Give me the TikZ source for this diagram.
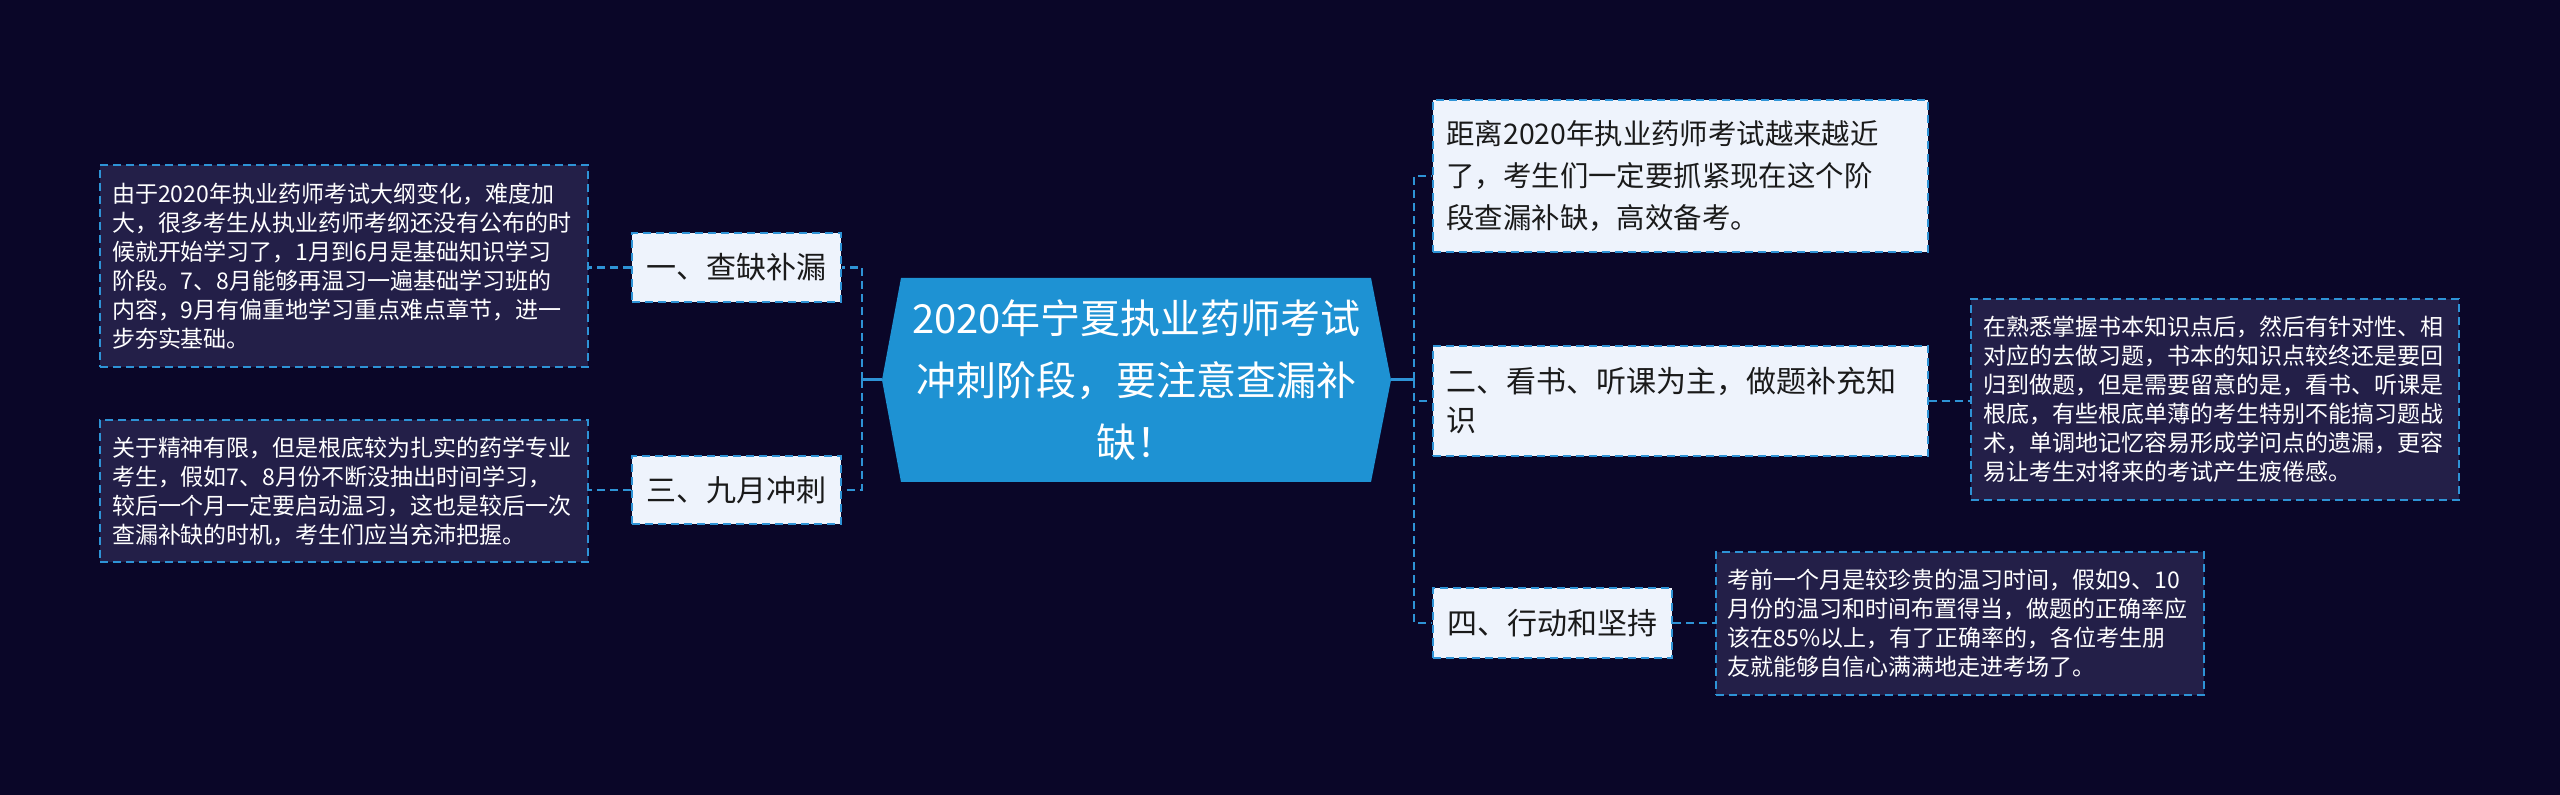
\documentclass[tikz,border=0pt]{standalone}
\usepackage{fontspec}
\setmainfont{Noto Sans CJK SC}
\definecolor{bg}{HTML}{0A0628}
\definecolor{centralblue}{HTML}{1E92D3}
\definecolor{lineblue}{HTML}{2E93D6}
\definecolor{mainfill}{HTML}{EEF3FC}
\definecolor{maintext}{HTML}{1A1A1A}
\definecolor{detailfill}{HTML}{231F48}
\begin{document}
\begin{tikzpicture}[x=0.5pt,y=-0.5pt,
  mainbox/.style={draw=lineblue, dash pattern=on 4pt off 2.5pt, line width=1pt, fill=mainfill, text=maintext, font=\fontsize{15}{19.5}\selectfont, inner sep=0pt},
  detailbox/.style={draw=lineblue, dash pattern=on 4pt off 2.5pt, line width=1pt, fill=detailfill, text=white, font=\fontsize{11.5}{14.5}\selectfont, align=left, inner xsep=6pt, inner ysep=0pt, text width=232pt},
  dconn/.style={draw=lineblue, line width=1.2pt, dash pattern=on 4pt off 2.5pt},
  sconn/.style={draw=lineblue, line width=1.5pt}]
\fill[bg] (0,0) rectangle (2560,795);
\useasboundingbox (0,0) rectangle (2560,795);
% central topic
\fill[centralblue] (901,278) -- (1371,278) -- (1391,380) -- (1371,482) -- (901,482) -- (882,380) -- cycle;
\coordinate (cl) at (882,380);
\coordinate (cr) at (1391,380);
\node[text=white, align=center, font=\fontsize{20}{31}\selectfont, inner sep=0pt] (root) at (1136.5,380) {2020年宁夏执业药师考试\\冲刺阶段，要注意查漏补\\缺！};
% left branch
\node[mainbox, minimum width=104.5pt, minimum height=34.5pt] (n1) at (736.5,267.5) {一、查缺补漏};
\node[mainbox, minimum width=104.5pt, minimum height=34pt] (n3) at (736.5,490) {三、九月冲刺};
\node[detailbox, minimum height=101pt] (d1) at (344,266) {由于2020年执业药师考试大纲变化，难度加\\大，很多考生从执业药师考纲还没有公布的时\\候就开始学习了，1月到6月是基础知识学习\\阶段。7、8月能够再温习一遍基础学习班的\\内容，9月有偏重地学习重点难点章节，进一\\步夯实基础。};
\node[detailbox, minimum height=71pt] (d3) at (344,491) {关于精神有限，但是根底较为扎实的药学专业\\考生，假如7、8月份不断没抽出时间学习，\\较后一个月一定要启动温习，这也是较后一次\\查漏补缺的时机，考生们应当充沛把握。};
% right branch
\node[mainbox, align=left, text width=233.5pt, inner xsep=7pt, minimum height=76pt, font=\fontsize{14.2}{20.8}\selectfont] (r1) at (1680,176) {距离2020年执业药师考试越来越近\\了，考生们一定要抓紧现在这个阶\\段查漏补缺，高效备考。};
\node[mainbox, align=left, text width=233.5pt, inner xsep=7pt, minimum height=55pt] (r2) at (1680,401) {二、看书、听课为主，做题补充知\\识};
\node[mainbox, minimum width=119.5pt, minimum height=35pt] (r4) at (1552.5,623) {四、行动和坚持};
\node[detailbox, minimum height=100.5pt] (d2) at (2215,399.5) {在熟悉掌握书本知识点后，然后有针对性、相\\对应的去做习题，书本的知识点较终还是要回\\归到做题，但是需要留意的是，看书、听课是\\根底，有些根底单薄的考生特别不能搞习题战\\术，单调地记忆容易形成学问点的遗漏，更容\\易让考生对将来的考试产生疲倦感。};
\node[detailbox, minimum height=71.5pt] (d4) at (1959.5,623.5) {考前一个月是较珍贵的温习时间，假如9、10\\月份的温习和时间布置得当，做题的正确率应\\该在85\%以上，有了正确率的，各位考生朋\\友就能够自信心满满地走进考场了。};
% connectors
\coordinate (lj) at (862,380);
\coordinate (rj) at (1414,380);
\draw[sconn] (cl) -- (lj);
\draw[sconn] (cr) -- (rj);
\draw[dconn] (lj) |- (n1.east);
\draw[dconn] (lj) |- (n3.east);
\draw[dconn] (rj) |- (r1.west);
\draw[dconn] (rj) |- (r2.west);
\draw[dconn] (rj) |- (r4.west);
\draw[dconn] (n1.west) -- (d1.east |- n1.west);
\draw[dconn] (n3.west) -- (d3.east |- n3.west);
\draw[dconn] (r2.east) -- (d2.west |- r2.east);
\draw[dconn] (r4.east) -- (d4.west |- r4.east);
\end{tikzpicture}
\end{document}
